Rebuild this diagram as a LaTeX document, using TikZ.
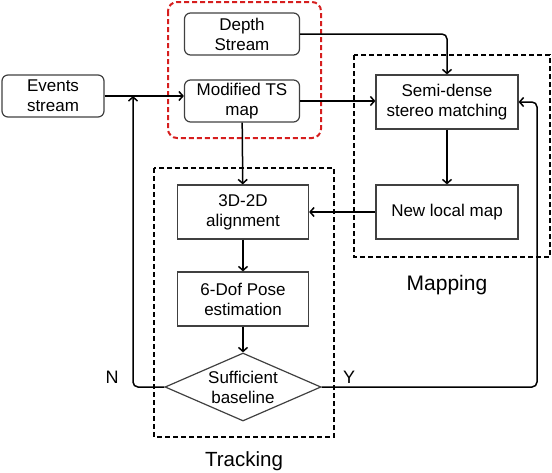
\documentclass[tikz,border=0pt]{standalone}
\usepackage{fontspec}
\setmainfont{Liberation Sans}
\usetikzlibrary{shapes.geometric,arrows.meta}
\definecolor{tsred}{RGB}{214,30,30}
\begin{document}
\begin{tikzpicture}[x=1pt, y=-1pt, >={Straight Barb[length=4pt,width=9pt]},
    txt/.style={font=\fontsize{17}{20}\selectfont, align=center},
    rbox/.style={txt, draw=black!75, line width=1.2pt, rounded corners=6pt, inner sep=0pt},
    sbox/.style={txt, draw=black!75, line width=1.2pt, minimum width=131pt, minimum height=54pt, inner sep=0pt},
    group/.style={draw, dashed, line width=1.3pt, dash pattern=on 5pt off 3pt},
    link/.style={->, line width=1.5pt}]
    \useasboundingbox (0,0) rectangle (552,472);
    \draw[group, draw=tsred, line width=2pt, rounded corners=9pt] (168,2) rectangle (321,138);
    \draw[group] (354,55) rectangle (550,257);
    \draw[group] (154,168) rectangle (334,437);
    \node[rbox, minimum width=102pt, minimum height=42pt] (events) at (53,96) {Events\\stream};
    \node[rbox, minimum width=115pt, minimum height=42pt] (depth) at (242,34) {Depth\\Stream};
    \node[rbox, minimum width=115pt, minimum height=42pt] (tsmap) at (242,101) {Modified TS\\map};
    \node[sbox, minimum width=142pt] (stereo) at (447,102) {Semi-dense\\stereo matching};
    \node[sbox, minimum width=142pt] (localmap) at (447,212) {New local map};
    \node[sbox] (align) at (243,212) {3D-2D\\alignment};
    \node[sbox] (pose) at (243,299) {6-Dof Pose\\estimation};
    \node[diamond, draw=black!75, line width=1.2pt, minimum width=156pt, minimum height=68pt, inner sep=0pt,
        label={[txt]center:Sufficient\\baseline}] (base) at (243,387) {};
    \node[txt, font=\fontsize{21}{24}\selectfont] (maplabel) at (447,285) {Mapping};
    \node[txt, font=\fontsize{20.5}{24}\selectfont] (tracklabel) at (244,461) {Tracking};
    \node[txt, font=\fontsize{18}{21}\selectfont] (nlabel) at (112,377) {N};
    \node[txt, font=\fontsize{18}{21}\selectfont] (ylabel) at (349,377) {Y};
    \coordinate (njoin) at (133,96);
    \coordinate (yturn) at (537,0);
    \draw[link] (events.east) -- (events.east -| tsmap.west);
    \draw[link] (tsmap.east) -- (tsmap.east -| stereo.west);
    \draw[link, rounded corners=5pt] (depth.east) -| (stereo.north);
    \draw[link] (stereo) -- (localmap);
    \draw[link] (localmap) -- (align);
    \draw[link] (tsmap) -- (align);
    \draw[link] (align) -- (pose);
    \draw[link] (pose) -- (base);
    \draw[link, rounded corners=5pt] (base.west) -| (njoin);
    \draw[link, rounded corners=5pt] (base.east) -| (yturn |- stereo.east) -- (stereo.east);
\end{tikzpicture}
\end{document}
